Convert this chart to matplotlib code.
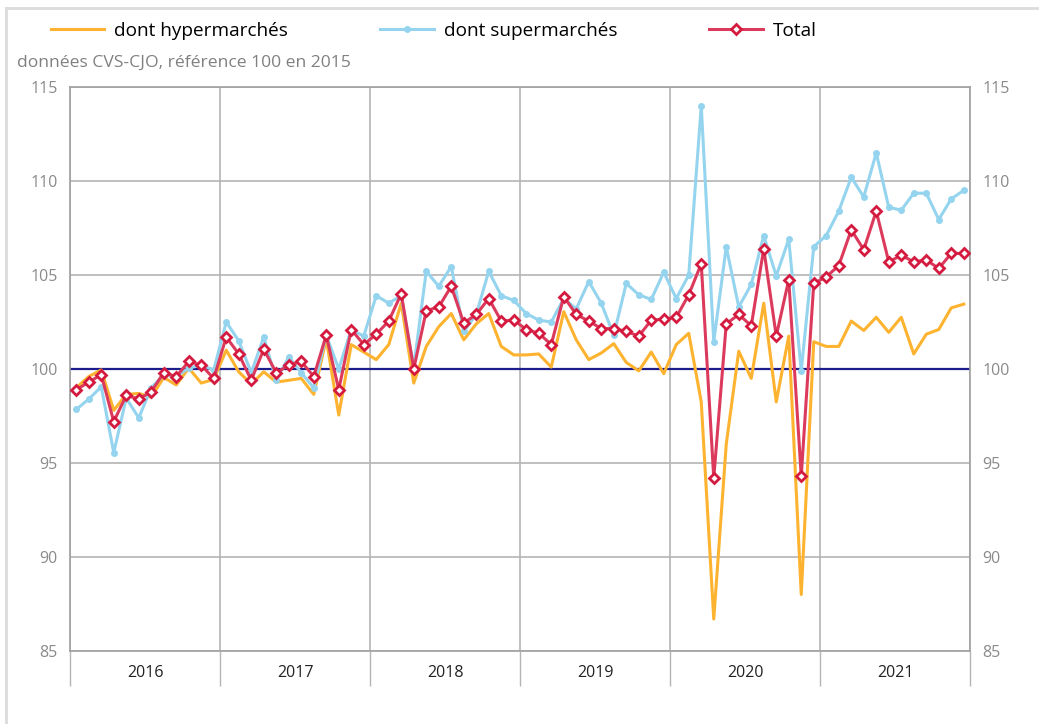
import numpy as np
import matplotlib
matplotlib.use("Agg")
import matplotlib.pyplot as plt
from matplotlib.lines import Line2D

plt.rcParams['font.family'] = ['Open Sans', 'DejaVu Sans']

years = ['2016', '2017', '2018', '2019', '2020', '2021']

# monthly indices, Jan 2016 -> Dec 2021
hyper = [99.0, 99.6, 99.95, 97.8, 98.65, 98.7, 98.5, 99.55, 99.15, 100.05, 99.25, 99.45,
         101.0, 99.85, 99.2, 99.85, 99.3, 99.4, 99.5, 98.65, 101.6, 97.55, 101.3, 100.9,
         100.5, 101.3, 103.5, 99.25, 101.2, 102.25, 102.95, 101.55, 102.4, 102.95, 101.2, 100.75,
         100.75, 100.8, 100.1, 103.05, 101.55, 100.5, 100.85, 101.35, 100.35, 99.9, 100.9, 99.75,
         101.3, 101.9, 98.25, 86.7, 96.0, 100.95, 99.5, 103.5, 98.25, 101.75, 88.0, 101.45,
         101.2, 101.2, 102.55, 102.05, 102.75, 101.95, 102.75, 100.8, 101.85, 102.1, 103.25, 103.45]

supers = [97.85, 98.4, 99.05, 95.55, 98.45, 97.4, 99.0, 99.7, 99.6, 100.05, 100.2, 99.95,
          102.5, 101.5, 99.8, 101.7, 99.4, 100.65, 99.8, 99.0, 101.8, 100.0, 102.1, 101.75,
          103.9, 103.5, 103.9, 100.1, 105.2, 104.4, 105.45, 102.0, 102.9, 105.2, 103.9, 103.65,
          102.95, 102.6, 102.5, 103.75, 103.2, 104.65, 103.5, 101.8, 104.55, 103.95, 103.7, 105.15,
          103.75, 105.0, 114.0, 101.45, 106.5, 103.3, 104.5, 107.1, 104.95, 106.9, 99.9, 106.5,
          107.1, 108.4, 110.2, 109.15, 111.5, 108.6, 108.45, 109.35, 109.35, 107.95, 109.05, 109.5]

total = [98.9, 99.3, 99.7, 97.2, 98.6, 98.4, 98.8, 99.8, 99.6, 100.4, 100.2, 99.5,
         101.7, 100.8, 99.4, 101.05, 99.8, 100.2, 100.4, 99.6, 101.8, 98.9, 102.1, 101.3,
         101.85, 102.55, 104.0, 100.0, 103.1, 103.3, 104.4, 102.45, 102.9, 103.75, 102.55, 102.6,
         102.1, 101.9, 101.3, 103.85, 102.9, 102.55, 102.15, 102.15, 102.0, 101.75, 102.6, 102.65,
         102.75, 103.95, 105.6, 94.2, 102.4, 102.9, 102.3, 106.4, 101.75, 104.75, 94.3, 104.55,
         104.9, 105.5, 107.4, 106.35, 108.4, 105.7, 106.05, 105.7, 105.8, 105.35, 106.15, 106.15]

x = np.arange(len(total)) + 0.5
grid_col = '#b4b4b4'

fig = plt.figure(figsize=(10.39, 7.24), dpi=100)
ax = fig.add_axes([70/1039, 1 - 651/724, 900/1039, 564/724])

ax.axhline(100, color='#1c1c8a', lw=1.6, zorder=2.5)
ax.plot(x, hyper, color='#FDB32F', lw=2.2, label='dont hypermarchés', zorder=3)
ax.plot(x, supers, color='#95D4EE', lw=2.2, marker='o', ms=4, label='dont supermarchés', zorder=4)
ax.plot(x, total, color='#DC3A5C', lw=2.2, marker='D', ms=5.5, mfc='white', mec='#D41A3E', mew=2,
        label='Total', zorder=5)

ax.set_xlim(0, 72)
ax.set_ylim(85, 115)
ax.set_yticks(range(85, 116, 5))
ax.yaxis.grid(True, color=grid_col, lw=1.2)
ax.set_xticks(np.arange(0, 73, 12))
ax.set_xticklabels([])
ax.set_xticks(np.arange(6, 72, 12), minor=True)
ax.set_xticklabels(years, minor=True)
ax.xaxis.grid(True, which='major', color=grid_col, lw=1.2)
ax.set_axisbelow(True)
ax.tick_params(axis='x', which='major', length=25, color=grid_col, width=1.0)
ax.tick_params(axis='x', which='minor', length=0, pad=10, labelsize=11.5, labelcolor='#222222')
ax.tick_params(axis='y', length=0, labelsize=11.5, labelcolor='#8a8a8a', pad=9,
               left=True, right=True, labelleft=True, labelright=True)
for s in ax.spines.values():
    s.set_color('#a0a0a0')
    s.set_linewidth(1.2)

fig.legend(loc='upper left', bbox_to_anchor=(51/1039, 1 - 22/724), ncol=3, frameon=False,
           fontsize=13.7, handlelength=2.8, handletextpad=0.52, columnspacing=4.85,
           borderaxespad=0, borderpad=0)

fig.text(17/1039, 1 - 63/724, 'données CVS-CJO, référence 100 en 2015', ha='left', va='center',
         color='#808080', fontsize=12.6)

# light outer frame
fig.add_artist(Line2D([6/1039, 1], [1 - 8/724, 1 - 8/724], color='#dcdcdc', lw=2,
                      transform=fig.transFigure))
fig.add_artist(Line2D([6/1039, 6/1039], [0, 1 - 8/724], color='#dcdcdc', lw=2,
                      transform=fig.transFigure))

fig.savefig('out.png', dpi=100)
